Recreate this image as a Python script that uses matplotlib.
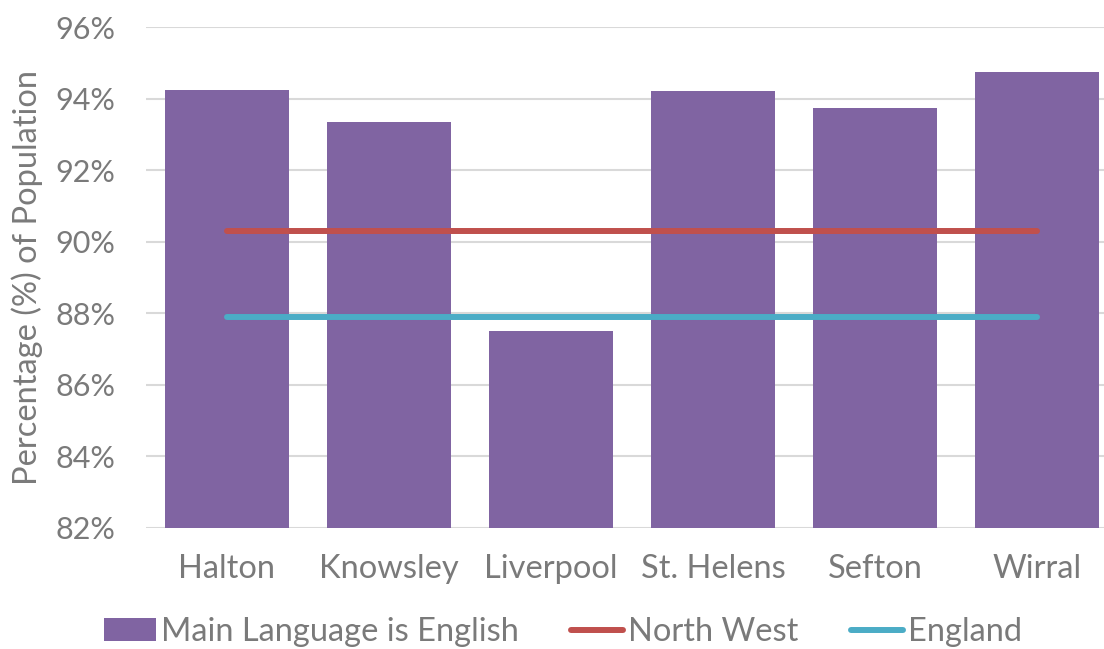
import numpy as np
import matplotlib.pyplot as plt
from matplotlib.patches import Patch
from matplotlib.lines import Line2D
from matplotlib.ticker import FuncFormatter, MultipleLocator

# Data
areas = ["Halton", "Knowsley", "Liverpool", "St. Helens", "Sefton", "Wirral"]
english_main = [94.25, 93.35, 87.51, 94.22, 93.73, 94.76]
north_west = [90.29] * len(areas)
england = [87.89] * len(areas)

# Style
purple = "#8064A2"
red = "#C0504D"
cyan = "#4BACC6"
grid_col = "#D9D9D9"
text_col = "#7A7A7A"
fs = 23.5

plt.rcParams["font.family"] = ["Lato", "DejaVu Sans"]

fig = plt.figure(figsize=(11.04, 6.49), dpi=100)
ax = fig.add_axes([0.1322, 0.1869, 0.8804, 0.7711])

x = np.arange(len(areas))
ax.bar(x, english_main, width=0.766, color=purple, zorder=2)
ax.plot(x, north_west, color=red, linewidth=4.3, solid_capstyle="round", zorder=3)
ax.plot(x, england, color=cyan, linewidth=4.3, solid_capstyle="round", zorder=3)

ax.set_xlim(-0.5, len(areas) - 0.5)
ax.set_ylim(82, 96)
ax.yaxis.set_major_locator(MultipleLocator(2))
ax.yaxis.set_major_formatter(FuncFormatter(lambda v, p: f"{v:.0f}%"))
ax.grid(axis="y", color=grid_col, linewidth=1.5, zorder=0)
ax.set_axisbelow(True)

ax.set_xticks(x)
ax.set_xticklabels(areas)
ax.tick_params(axis="both", length=0, colors=text_col)
ax.tick_params(axis="x", pad=19, labelsize=fs)
ax.tick_params(axis="y", pad=22, labelsize=22)
for s in ax.spines.values():
    s.set_visible(False)

ax.set_ylabel("Percentage (%) of Population", fontsize=fs, color=text_col, labelpad=9)

handles = [
    Patch(facecolor=purple, label="Main Language is English"),
    Line2D([0], [0], color=red, linewidth=4.3, solid_capstyle="round", label="North West"),
    Line2D([0], [0], color=cyan, linewidth=4.3, solid_capstyle="round", label="England"),
]
leg = fig.legend(handles=handles, loc="center", bbox_to_anchor=(0.51, 0.026), ncol=3,
                 frameon=False, fontsize=fs, handlelength=1.6, handletextpad=0.15,
                 columnspacing=1.6)
for t in leg.get_texts():
    t.set_color(text_col)

fig.savefig("out.png", dpi=100)
